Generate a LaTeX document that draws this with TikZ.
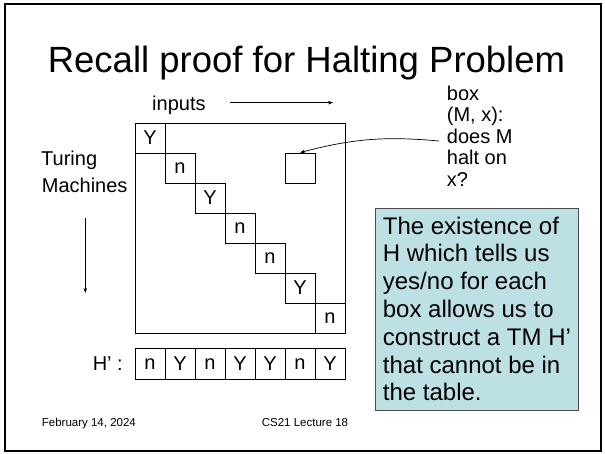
\documentclass[tikz,border=0pt]{standalone}
\usepackage{fontspec}
\setmainfont{Liberation Sans}
\usetikzlibrary{arrows.meta}
\definecolor{boxfill}{RGB}{188,224,228}
\begin{document}
\begin{tikzpicture}[x=1pt,y=-1pt,
  cell/.style={draw, line width=0.8pt, minimum width=30pt, minimum height=30pt, inner sep=0, font=\fontsize{20}{24}\selectfont},
  lbl/.style={inner sep=0, anchor=base west, font=\fontsize{20}{24}\selectfont},
  boxtext/.style={inner sep=0, anchor=base west, font=\fontsize{24}{28}\selectfont},
  foot/.style={inner sep=0, font=\fontsize{11.5}{13}\selectfont},
  arr/.style={-{Stealth[length=5pt,width=3.5pt]}, line width=0.7pt}]
\useasboundingbox (0,0) rectangle (605,453);
\fill[white] (0,0) rectangle (605,453);
\draw[line width=2.5pt] (5,4) rectangle (601,451);
% title
\node[inner sep=0, anchor=base, font=\fontsize{36.5}{40}\selectfont] (title) at (306.5,72.7) {Recall proof for Halting Problem};
% inputs
\node[lbl] (inputs) at (152,110) {inputs};
\coordinate (ia) at (230,102.7);
\coordinate (ib) at (333,102.7);
\draw[arr] (ia) -- (ib);
% table
\node[draw, line width=0.8pt, minimum size=210pt, inner sep=0] (table) at (240,228) {};
\foreach \v [count=\i from 0] in {Y,n,Y,n,n,Y,n}
  \node[cell] (d\i) at (150+30*\i, 138+30*\i) {\v};
\node[cell] (sbox) at (300,168) {};
% box (M,x) text
\node[lbl] (r1) at (446.7,100) {box};
\node[lbl] (r2) at (446.7,121.7) {(M, x):};
\node[lbl] (r3) at (446.7,143.3) {does M};
\node[lbl] (r4) at (446.7,164.8) {halt on};
\node[lbl] (r5) at (446.7,186.3) {x?};
\coordinate (dm) at (439,141);
\draw[arr] (dm) to[bend right=10] (sbox.north);
% Turing machines
\node[lbl] (tur) at (41,165.5) {Turing};
\node[lbl] (mach) at (41.7,192.5) {Machines};
\coordinate (ta) at (85.3,218.3);
\coordinate (tb) at (85.3,293);
\draw[arr] (ta) -- (tb);
% H' row
\node[inner sep=0, anchor=base east, font=\fontsize{20}{24}\selectfont] (hp) at (123,370) {H’ :};
\foreach \v [count=\i from 0] in {n,Y,n,Y,Y,n,Y}
  \node[cell, minimum height=30.5pt] (h\i) at (150+30*\i,363.7) {\v};
% text box
\node[draw=black!70, fill=boxfill, line width=0.8pt, minimum width=203.3pt, minimum height=201.7pt, inner sep=0] (hbox) at (476.65,309.2) {};
\foreach \t [count=\i from 0] in {The existence of, H which tells us, yes/no for each, box allows us to, construct a TM H’, that cannot be in, the table.}
  \node[boxtext] (t\i) at (382.7, 234+27.8*\i) {\t};
% footer
\node[foot, anchor=base west] (date) at (41.7,426.7) {February 14, 2024};
\node[foot, anchor=base] (lec) at (305,426.7) {CS21 Lecture 18};
\end{tikzpicture}
\end{document}
